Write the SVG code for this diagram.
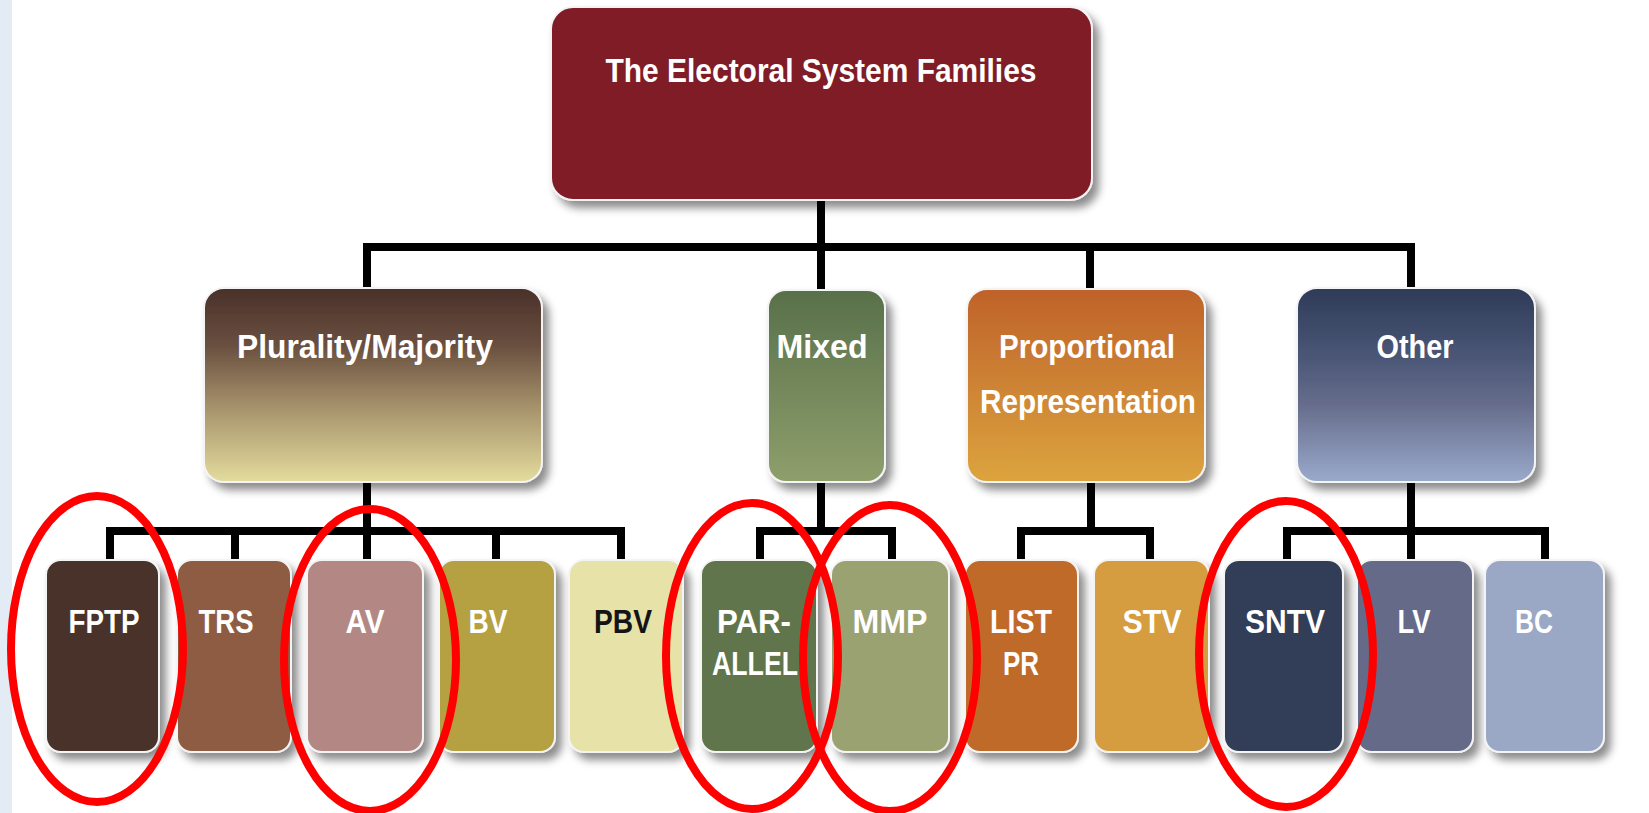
<svg xmlns="http://www.w3.org/2000/svg" width="1649" height="813" viewBox="0 0 1649 813">
<style>
.lbl{font-family:"Liberation Sans",Arial,sans-serif;font-weight:bold;font-size:34px;fill:#ffffff;text-anchor:middle}
.box{stroke:#f4f4f4;stroke-width:2;filter:url(#sh)}
.conn{fill:none;stroke:#000;stroke-width:8;stroke-linejoin:miter;stroke-linecap:butt}
.ring{fill:none;stroke:#ff0000;stroke-width:8}
</style>
<defs>
<filter id="sh" x="-20%" y="-20%" width="150%" height="150%">
<feDropShadow dx="6" dy="7" stdDeviation="4" flood-color="#000" flood-opacity="0.45"/>
</filter>
<linearGradient id="gPM" x1="0" y1="0" x2="0" y2="1">
<stop offset="0" stop-color="#49302a"/>
<stop offset="0.3" stop-color="#6a5040"/>
<stop offset="0.6" stop-color="#a38f69"/>
<stop offset="1" stop-color="#e4dc9e"/>
</linearGradient>
<linearGradient id="gMX" x1="0" y1="0" x2="0" y2="1">
<stop offset="0" stop-color="#58704a"/>
<stop offset="1" stop-color="#8f9f6c"/>
</linearGradient>
<linearGradient id="gPR" x1="0" y1="0" x2="0" y2="1">
<stop offset="0" stop-color="#bf622a"/>
<stop offset="1" stop-color="#dca43e"/>
</linearGradient>
<linearGradient id="gOT" x1="0" y1="0" x2="0" y2="1">
<stop offset="0" stop-color="#2e3b58"/>
<stop offset="0.35" stop-color="#4a5676"/>
<stop offset="0.6" stop-color="#666c8c"/>
<stop offset="1" stop-color="#9aaacb"/>
</linearGradient>
</defs>
<rect x="0" y="0" width="1649" height="813" fill="#ffffff"/>
<rect x="0" y="0" width="12" height="813" fill="#e3ebf5"/>

<g id="connectors">
<path class="conn" d="M821,200 V247"/>
<path class="conn" d="M367,290 V247 H1411 V290"/>
<path class="conn" d="M821,247 V290"/>
<path class="conn" d="M1090,247 V290"/>
<path class="conn" d="M110,561 V531 H621 V561"/>
<path class="conn" d="M235,531 V561"/>
<path class="conn" d="M367,482 V561"/>
<path class="conn" d="M496,531 V561"/>
<path class="conn" d="M760,561 V531 H892 V561"/>
<path class="conn" d="M821,482 V531"/>
<path class="conn" d="M1021,561 V531 H1150 V561"/>
<path class="conn" d="M1091,482 V531"/>
<path class="conn" d="M1287,561 V531 H1545 V561"/>
<path class="conn" d="M1411,482 V561"/>
</g>

<g id="root">
<rect class="box" x="551" y="7" width="541" height="193" rx="22" fill="#7f1b26"/>
<text class="lbl" x="821" y="82" font-size="35" textLength="431" lengthAdjust="spacingAndGlyphs">The Electoral System Families</text>
</g>

<g id="plurality-majority">
<rect class="box" x="204" y="288" width="338" height="194" rx="20" fill="url(#gPM)"/>
<text class="lbl" x="365" y="358" textLength="256" lengthAdjust="spacingAndGlyphs">Plurality/Majority</text>
</g>
<g id="mixed">
<rect class="box" x="768" y="290" width="117" height="192" rx="18" fill="url(#gMX)"/>
<text class="lbl" x="822" y="358" textLength="91" lengthAdjust="spacingAndGlyphs">Mixed</text>
</g>
<g id="proportional">
<rect class="box" x="967" y="289" width="238" height="193" rx="20" fill="url(#gPR)"/>
<text class="lbl" x="1087" y="358" textLength="176" lengthAdjust="spacingAndGlyphs">Proportional</text>
<text class="lbl" x="1088" y="413" textLength="216" lengthAdjust="spacingAndGlyphs">Representation</text>
</g>
<g id="other">
<rect class="box" x="1297" y="288" width="238" height="194" rx="20" fill="url(#gOT)"/>
<text class="lbl" x="1415" y="358" textLength="77" lengthAdjust="spacingAndGlyphs">Other</text>
</g>

<g id="fptp">
<rect class="box" x="46" y="560" width="113" height="192" rx="15" fill="#4a312b"/>
<text class="lbl" x="104" y="633" textLength="71" lengthAdjust="spacingAndGlyphs">FPTP</text>
</g>
<g id="trs">
<rect class="box" x="177" y="560" width="114" height="192" rx="15" fill="#8e5c43"/>
<text class="lbl" x="226" y="633" textLength="55" lengthAdjust="spacingAndGlyphs">TRS</text>
</g>
<g id="av">
<rect class="box" x="307" y="560" width="116" height="192" rx="15" fill="#b38884"/>
<text class="lbl" x="365" y="633" textLength="39" lengthAdjust="spacingAndGlyphs">AV</text>
</g>
<g id="bv">
<rect class="box" x="439" y="560" width="116" height="192" rx="15" fill="#b5a042"/>
<text class="lbl" x="488" y="633" textLength="39" lengthAdjust="spacingAndGlyphs">BV</text>
</g>
<g id="pbv">
<rect class="box" x="569" y="560" width="114" height="192" rx="15" fill="#e6e2a8"/>
<text class="lbl" x="623" y="633" textLength="58" lengthAdjust="spacingAndGlyphs" style="fill:#141414">PBV</text>
</g>
<g id="parallel">
<rect class="box" x="701" y="560" width="116" height="192" rx="15" fill="#60744c"/>
<text class="lbl" x="754" y="633" textLength="74" lengthAdjust="spacingAndGlyphs">PAR-</text>
<text class="lbl" x="755" y="675" textLength="86" lengthAdjust="spacingAndGlyphs">ALLEL</text>
</g>
<g id="mmp">
<rect class="box" x="831" y="560" width="118" height="192" rx="15" fill="#9aa272"/>
<text class="lbl" x="890" y="633" textLength="75" lengthAdjust="spacingAndGlyphs">MMP</text>
</g>
<g id="list-pr">
<rect class="box" x="965" y="560" width="113" height="192" rx="15" fill="#c06a2c"/>
<text class="lbl" x="1021" y="633" textLength="62" lengthAdjust="spacingAndGlyphs">LIST</text>
<text class="lbl" x="1021" y="675" textLength="36" lengthAdjust="spacingAndGlyphs">PR</text>
</g>
<g id="stv">
<rect class="box" x="1094" y="560" width="115" height="192" rx="15" fill="#d59c3f"/>
<text class="lbl" x="1152" y="633" textLength="59" lengthAdjust="spacingAndGlyphs">STV</text>
</g>
<g id="sntv">
<rect class="box" x="1224" y="560" width="119" height="192" rx="15" fill="#313e58"/>
<text class="lbl" x="1285" y="633" textLength="80" lengthAdjust="spacingAndGlyphs">SNTV</text>
</g>
<g id="lv">
<rect class="box" x="1357" y="560" width="116" height="192" rx="15" fill="#656b89"/>
<text class="lbl" x="1414" y="633" textLength="33" lengthAdjust="spacingAndGlyphs">LV</text>
</g>
<g id="bc">
<rect class="box" x="1485" y="560" width="119" height="192" rx="15" fill="#9aa8c6"/>
<text class="lbl" x="1534" y="633" textLength="38" lengthAdjust="spacingAndGlyphs">BC</text>
</g>

<g id="highlights">
<ellipse class="ring" cx="97" cy="649" rx="86" ry="153"/>
<ellipse class="ring" cx="370" cy="660" rx="86" ry="151"/>
<ellipse class="ring" cx="752" cy="656" rx="86" ry="153"/>
<ellipse class="ring" cx="890" cy="658" rx="87" ry="153"/>
<ellipse class="ring" cx="1286" cy="654" rx="87" ry="153"/>
</g>
</svg>
